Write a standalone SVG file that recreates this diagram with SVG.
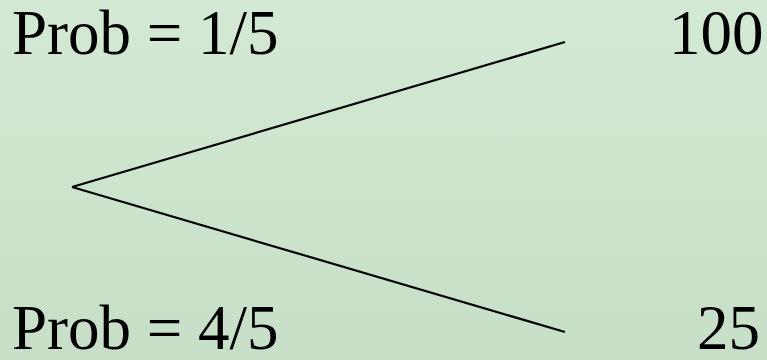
<svg xmlns="http://www.w3.org/2000/svg" width="767" height="360" viewBox="0 0 767 360">
<defs>
<linearGradient id="bg" x1="0" y1="0" x2="0" y2="1">
<stop offset="0" stop-color="#d3e9d3"/>
<stop offset="1" stop-color="#c7dfc7"/>
</linearGradient>
<style>
.t{font-family:"Liberation Serif","Times New Roman",serif;font-size:63px;fill:#000}
.c{stroke:#000;stroke-width:2.2;fill:none}
</style>
</defs>
<rect width="767" height="360" fill="url(#bg)"/>
<g id="connectors">
<line class="c" x1="72" y1="187" x2="565" y2="42"/>
<line class="c" x1="72" y1="187" x2="565" y2="332"/>
</g>
<g id="top-prob"><text class="t" x="12" y="54">Prob = 1/5</text></g>
<g id="top-value"><text class="t" x="669" y="54">100</text></g>
<g id="bottom-prob"><text class="t" x="12" y="349">Prob = 4/5</text></g>
<g id="bottom-value"><text class="t" x="697" y="349">25</text></g>
</svg>
